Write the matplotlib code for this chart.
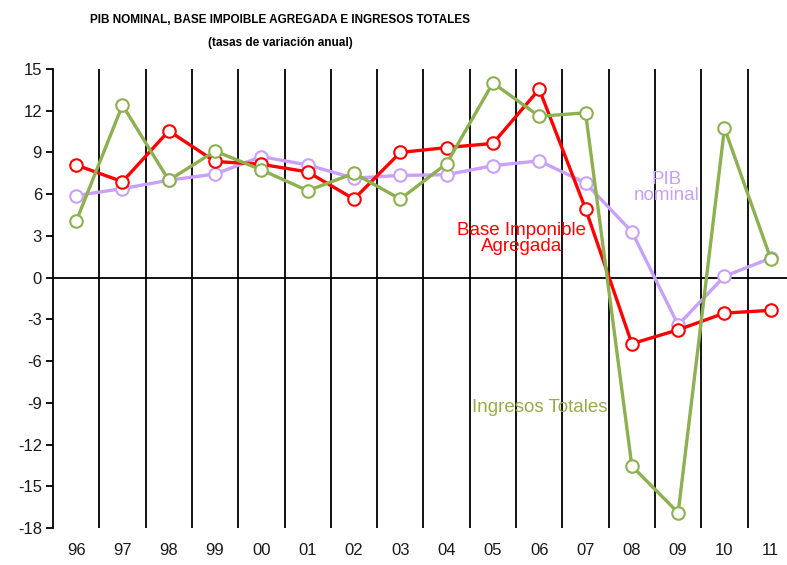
import matplotlib
matplotlib.use("Agg")
import matplotlib.pyplot as plt
import numpy as np

years = ["96", "97", "98", "99", "00", "01", "02", "03", "04", "05", "06", "07", "08", "09", "10", "11"]
pib_nominal = [5.9, 6.4, 7.0, 7.45, 8.7, 8.1, 7.15, 7.35, 7.4, 8.05, 8.4, 6.8, 3.3, -3.4, 0.1, 1.4]
base_imponible = [8.1, 6.9, 10.55, 8.35, 8.15, 7.6, 5.65, 9.0, 9.35, 9.65, 13.55, 4.95, -4.75, -3.75, -2.55, -2.35]
ingresos_totales = [4.05, 12.4, 7.0, 9.1, 7.75, 6.25, 7.5, 5.65, 8.2, 14.0, 11.6, 11.85, -13.55, -16.9, 10.75, 1.35]
yticks = list(range(-18, 16, 3))

c_pib = "#C9A0FA"
c_base = "#FF0000"
c_ing = "#8DB051"

fig = plt.figure(figsize=(7.87, 5.65), dpi=100)
ax = fig.add_axes([53/787, 37/565, 1 - 53/787, 459/565])

x = np.arange(len(years))
for xb in np.arange(0.5, len(years) - 0.5, 1.0):
    ax.axvline(xb, color="black", lw=1.3, zorder=1)
ax.axhline(0, color="black", lw=1.3, zorder=1)

mk = dict(marker="o", markersize=9, markerfacecolor="white", markeredgewidth=1.5, lw=2.4, zorder=3)
ax.plot(x, pib_nominal, color=c_pib, markeredgecolor=c_pib, **mk)
ax.plot(x, base_imponible, color=c_base, markeredgecolor=c_base, **mk)
ax.plot(x, ingresos_totales, color=c_ing, markeredgecolor=c_ing, **mk)

ax.set_xlim(-0.5, 15.35)
ax.set_ylim(-18, 15)
ax.set_yticks(yticks)
ax.set_yticklabels([str(v) for v in yticks], fontsize=12, family="Liberation Sans", color="#1a1a1a")
ax.set_xticks(x)
ax.set_xticklabels(years, fontsize=12, family="Liberation Sans", color="#1a1a1a")
ax.tick_params(axis="x", length=0, pad=11)
ax.tick_params(axis="y", length=5, width=1.3, direction="out", pad=3)
for s in ["top", "right", "bottom"]:
    ax.spines[s].set_visible(False)
ax.spines["left"].set_linewidth(1.3)

ax.text(12.75, 6.5, "PIB\nnominal", color=c_pib, fontsize=13.5, family="Liberation Sans",
        ha="center", va="center", linespacing=0.95)
ax.text(9.61, 2.83, "Base Imponible\nAgregada", color=c_base, fontsize=13.5, family="Liberation Sans",
        ha="center", va="center", linespacing=0.95)
ax.text(10.02, -9.33, "Ingresos Totales", color="#9BAA4A", fontsize=13.5, family="Liberation Sans",
        ha="center", va="center")

fig.text(280/787, 1 - 20/565, "PIB NOMINAL, BASE IMPOIBLE AGREGADA E INGRESOS TOTALES",
         ha="center", va="center", fontsize=8.5, fontweight="bold", family="Liberation Sans")
fig.text(280/787, 1 - 43/565, "(tasas de variación anual)",
         ha="center", va="center", fontsize=8.5, fontweight="bold", family="Liberation Sans")

fig.savefig("out.png", dpi=100)
